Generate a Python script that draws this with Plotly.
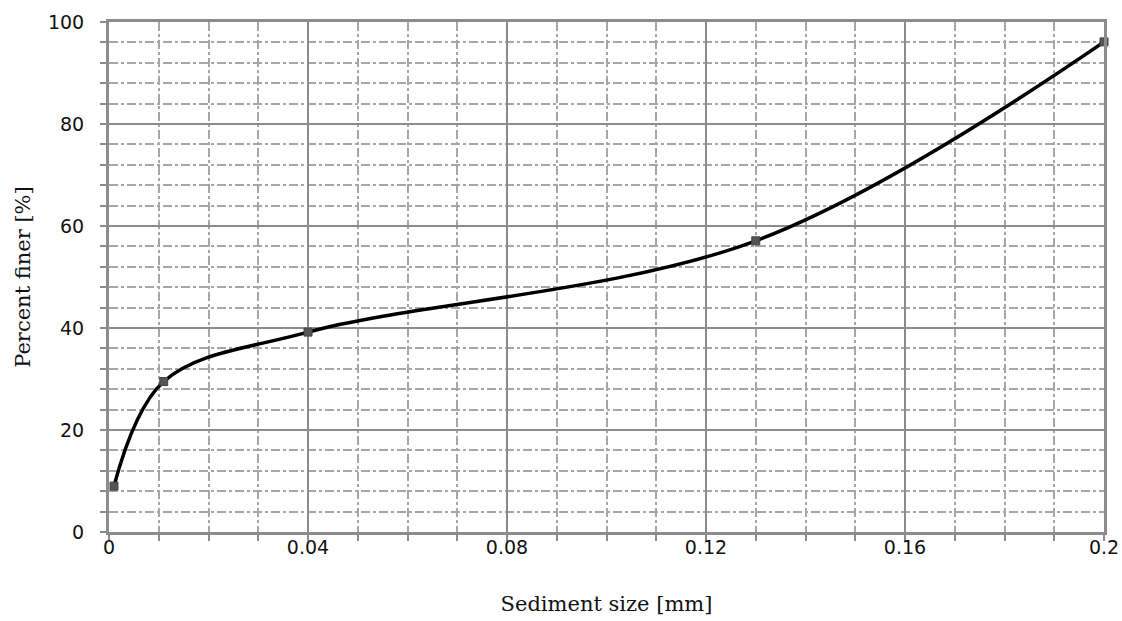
import plotly.graph_objects as go

sizes_mm = [0.001, 0.011, 0.04, 0.13, 0.2]
percent_finer = [9.0, 29.5, 39.2, 57.1, 96.1]

x_tick_vals = [0, 0.04, 0.08, 0.12, 0.16, 0.2]
x_tick_text = ["0", "0.04", "0.08", "0.12", "0.16", "0.2"]
y_tick_vals = [0, 20, 40, 60, 80, 100]
y_tick_text = ["0", "20", "40", "60", "80", "100"]

fig = go.Figure()
fig.add_trace(go.Scatter(
    x=sizes_mm, y=percent_finer, mode="lines+markers",
    line=dict(color="black", width=3.5, shape="spline", smoothing=1.0),
    marker=dict(symbol="square", size=8, color="#555555", line=dict(color="#444444", width=1)),
    showlegend=False, cliponaxis=False,
))

grid_major = "#8c8c8c"
grid_minor = "#a6a6a6"
tick_font = dict(family="DejaVu Sans", size=19, color="#111111")
title_font = dict(family="DejaVu Serif", size=21, color="#111111")

fig.update_xaxes(
    range=[0, 0.2], tickvals=x_tick_vals, ticktext=x_tick_text,
    showgrid=True, gridcolor=grid_major, gridwidth=2,
    showline=True, mirror=True, linecolor=grid_major, linewidth=3,
    ticks="outside", ticklen=6, tickcolor=grid_major, tickwidth=2,
    tickfont=tick_font, zeroline=False, automargin=False, ticklabelstandoff=-10,
    minor=dict(dtick=0.01, showgrid=True, gridcolor=grid_minor, griddash="dashdot",
               gridwidth=1.5, ticks="outside", ticklen=6, tickcolor=grid_major, tickwidth=2),
    title=dict(text="Sediment size [mm]", font=title_font, standoff=40),
)
fig.update_yaxes(
    range=[0, 100], tickvals=y_tick_vals, ticktext=y_tick_text,
    showgrid=True, gridcolor=grid_major, gridwidth=2,
    showline=True, mirror=True, linecolor=grid_major, linewidth=3,
    ticks="outside", ticklen=6, tickcolor=grid_major, tickwidth=2,
    tickfont=tick_font, zeroline=False, automargin=False, ticklabelstandoff=12,
    minor=dict(dtick=4, showgrid=True, gridcolor=grid_minor, griddash="dashdot",
               gridwidth=1.5, ticks="outside", ticklen=6, tickcolor=grid_major, tickwidth=2),
    title=dict(text="Percent finer [%]", font=title_font, standoff=12),
)
fig.update_layout(
    width=1122, height=621,
    margin=dict(l=109, r=18, t=22, b=89, autoexpand=False),
    paper_bgcolor="white", plot_bgcolor="white",
)
fig.write_html("out.html", config={"displayModeBar": False},
               post_script="document.body.style.margin='0';document.body.style.overflow='hidden';")
